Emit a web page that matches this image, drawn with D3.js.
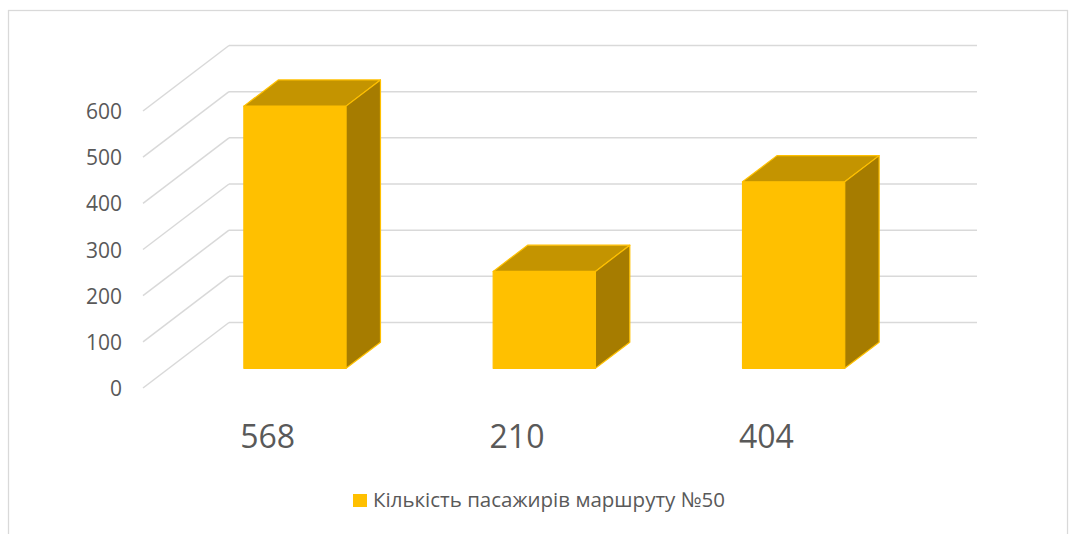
<!DOCTYPE html>
<html>
<head>
<meta charset="utf-8">
<script src="https://cdn.jsdelivr.net/npm/d3@7"></script>
<style>
  html, body { margin: 0; padding: 0; background: #fff; }
  svg { display: block; }
</style>
</head>
<body>
<script>
var categories = ["568", "210", "404"];
var values = [568, 210, 404];
var yTicks = [0, 100, 200, 300, 400, 500, 600];
var seriesName = "Кількість пасажирів маршруту №50";

var width = 1069, height = 534;
var font = "'Open Sans', 'Noto Sans', sans-serif";

// floor front-left corner and depth vector of the 3D box
var origin = { x: 143, y: 388 };
var depth = { x: 86, y: -65.5 };
var floorWidth = 748;

var x = d3.scaleBand()
  .domain(categories)
  .range([0, floorWidth]);

var h = d3.scaleLinear()
  .domain([0, 600])
  .range([0, 277]);

// project (u along floor, value, depth fraction) to screen
function proj(u, v, d) {
  return [origin.x + u + d * depth.x, origin.y - h(v) + d * depth.y];
}

var svg = d3.select('body')
  .append('svg')
  .attr('width', width)
  .attr('height', height);

// chart border
svg.append('rect')
  .attr('x', 8.5)
  .attr('y', 10.5)
  .attr('width', 1059)
  .attr('height', 600)
  .attr('fill', 'white')
  .attr('stroke', '#d9d9d9')
  .attr('stroke-width', 1.25);

var grid = svg.append('g');

// back wall lines
grid.selectAll('line.back')
  .data(yTicks)
  .enter()
  .append('line')
  .attr('class', 'back')
  .attr('x1', function(d) { return proj(0, d, 1)[0]; })
  .attr('y1', function(d) { return proj(0, d, 1)[1]; })
  .attr('x2', function(d) { return proj(floorWidth, d, 1)[0]; })
  .attr('y2', function(d) { return proj(floorWidth, d, 1)[1]; })
  .attr('stroke', '#d9d9d9')
  .attr('stroke-width', 1.5);

// side wall lines
grid.selectAll('line.side')
  .data(yTicks)
  .enter()
  .append('line')
  .attr('class', 'side')
  .attr('x1', function(d) { return proj(0, d, 0)[0]; })
  .attr('y1', function(d) { return proj(0, d, 0)[1]; })
  .attr('x2', function(d) { return proj(0, d, 1)[0]; })
  .attr('y2', function(d) { return proj(0, d, 1)[1]; })
  .attr('stroke', '#d9d9d9')
  .attr('stroke-width', 1.5);

// y labels
svg.append('g').selectAll('text')
  .data(yTicks)
  .enter()
  .append('text')
  .attr('x', 122)
  .attr('y', function(d) { return proj(0, d, 0)[1] + 8; })
  .attr('text-anchor', 'end')
  .attr('fill', '#595959')
  .style('font', '21px ' + font)
  .text(function(d) { return d; });

// bars
var barFrac = 0.41, d0 = 0.3, d1 = 0.7;
var bars = svg.append('g').selectAll('g')
  .data(categories.map(function(c, i) { return { cat: c, value: values[i] }; }))
  .enter()
  .append('g');

function poly(pts) { return 'M' + pts.map(function(p) { return p.join(','); }).join('L') + 'Z'; }
function u0(d) { return x(d.cat) + x.bandwidth() * (1 - barFrac) / 2 + 1.5; }
function u1(d) { return x(d.cat) + x.bandwidth() * (1 + barFrac) / 2 + 1.5; }

bars.append('path')
  .attr('d', function(d) {
    return poly([proj(u0(d), 0, d0), proj(u1(d), 0, d0), proj(u1(d), d.value, d0), proj(u0(d), d.value, d0)]);
  })
  .attr('fill', '#FFC000');

bars.append('path')
  .attr('d', function(d) {
    return poly([proj(u0(d), d.value, d0), proj(u1(d), d.value, d0), proj(u1(d), d.value, d1), proj(u0(d), d.value, d1)]);
  })
  .attr('fill', '#C49400');

bars.append('path')
  .attr('d', function(d) {
    return poly([proj(u1(d), 0, d0), proj(u1(d), 0, d1), proj(u1(d), d.value, d1), proj(u1(d), d.value, d0)]);
  })
  .attr('fill', '#A67C00');

bars.selectAll('path')
  .attr('stroke', '#FFC000')
  .attr('stroke-width', 1.2)
  .attr('stroke-linejoin', 'round');

// category labels
svg.append('g').selectAll('text')
  .data(categories)
  .enter()
  .append('text')
  .attr('x', function(d) { return origin.x + x(d) + x.bandwidth() / 2; })
  .attr('y', 448)
  .attr('text-anchor', 'middle')
  .attr('fill', '#595959')
  .style('font', '32px ' + font)
  .text(function(d) { return d; });

// legend
var legend = svg.append('g');
legend.append('rect')
  .attr('x', 353)
  .attr('y', 494)
  .attr('width', 14)
  .attr('height', 13)
  .attr('fill', '#FFC000');
legend.append('text')
  .attr('x', 373)
  .attr('y', 507)
  .attr('fill', '#595959')
  .style('font', '20.5px ' + font)
  .text(seriesName);
</script>
</body>
</html>
